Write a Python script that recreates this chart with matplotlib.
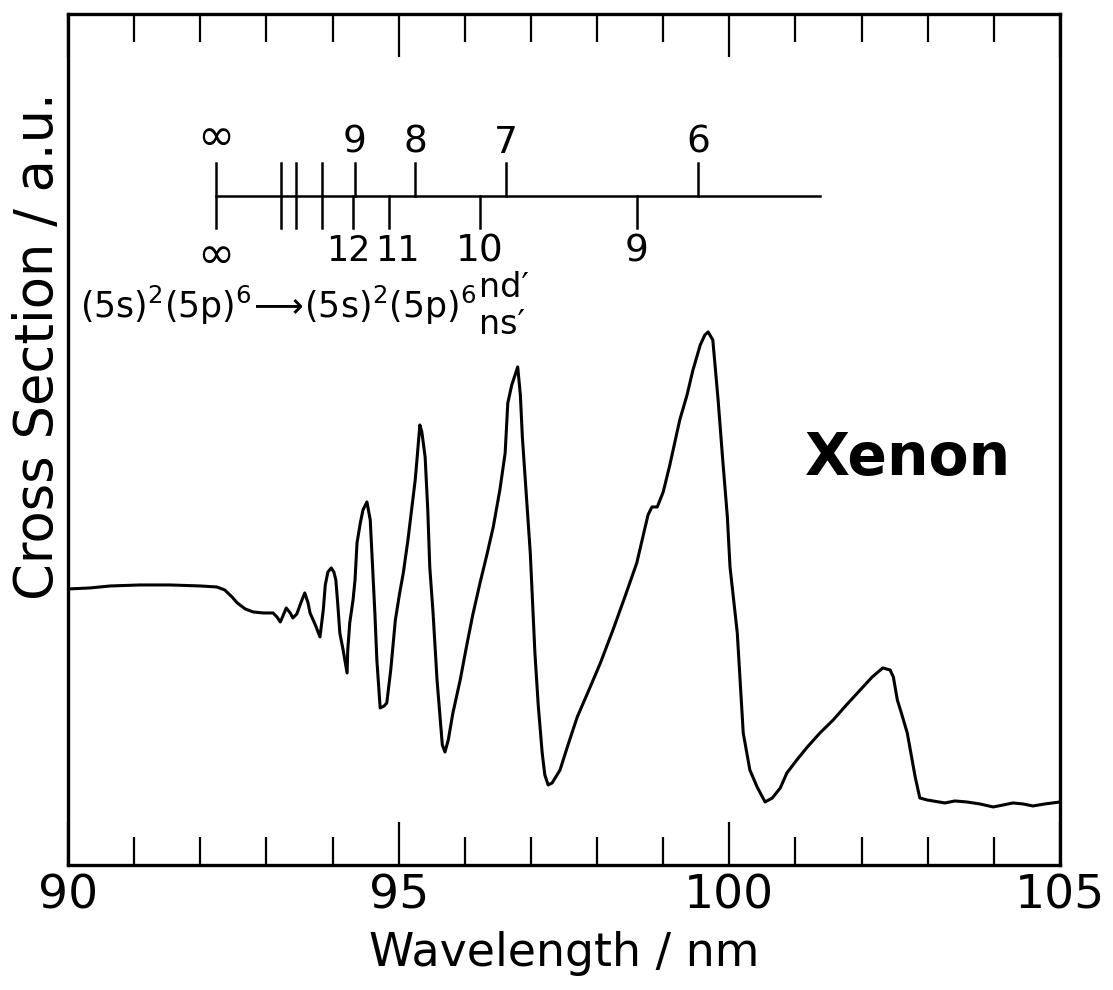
import matplotlib.pyplot as plt

# Espectro de absorção do xenônio
comprimento = [
    90.00, 90.33, 90.64, 91.09, 91.54, 92.00, 92.25, 92.37, 92.48, 92.56,
    92.68, 92.80, 92.95, 93.10, 93.16, 93.21, 93.25, 93.30, 93.36, 93.40,
    93.46, 93.52, 93.58, 93.63, 93.66, 93.74, 93.81, 93.86, 93.89, 93.93,
    93.98, 94.02, 94.05, 94.08, 94.11, 94.16, 94.22, 94.23, 94.26, 94.31,
    94.34, 94.37, 94.42, 94.46, 94.52, 94.57, 94.60, 94.64, 94.67, 94.72,
    94.78, 94.82, 94.88, 94.95, 95.01, 95.07, 95.14, 95.20, 95.25, 95.28,
    95.32, 95.35, 95.40, 95.44, 95.47, 95.52, 95.58, 95.63, 95.66, 95.70,
    95.75, 95.82, 95.93, 96.03, 96.12, 96.23, 96.34, 96.43, 96.53, 96.61,
    96.65, 96.71, 96.80, 96.84, 96.87, 96.93, 96.99, 97.03, 97.06, 97.11,
    97.17, 97.21, 97.26, 97.32, 97.44, 97.56, 97.70, 97.89, 98.05, 98.24,
    98.42, 98.60, 98.70, 98.77, 98.83, 98.91, 99.00, 99.10, 99.25, 99.36,
    99.45, 99.56, 99.63, 99.68, 99.75, 99.83, 99.90, 99.97, 100.01, 100.12,
    100.21, 100.31, 100.42, 100.54, 100.65, 100.77, 100.87, 101.02, 101.18,
    101.37, 101.57, 101.77, 101.98, 102.16, 102.32, 102.43, 102.48, 102.54,
    102.61, 102.69, 102.75, 102.81, 102.88, 102.99, 103.08, 103.26, 103.41,
    103.59, 103.79, 103.99, 104.14, 104.29, 104.44, 104.59, 104.77, 105.00,
]
secao = [
    2.76, 2.77, 2.79, 2.80, 2.80, 2.79, 2.78, 2.75, 2.68, 2.62,
    2.56, 2.53, 2.52, 2.52, 2.48, 2.43, 2.49, 2.57, 2.52, 2.47,
    2.51, 2.62, 2.72, 2.62, 2.52, 2.40, 2.28, 2.55, 2.80, 2.93,
    2.97, 2.93, 2.85, 2.60, 2.32, 2.15, 1.92, 2.15, 2.42, 2.65,
    2.85, 3.22, 3.42, 3.55, 3.63, 3.45, 3.05, 2.52, 2.05, 1.57,
    1.59, 1.62, 1.95, 2.45, 2.70, 2.92, 3.25, 3.58, 3.85, 4.08,
    4.40, 4.33, 4.08, 3.55, 2.98, 2.52, 1.85, 1.45, 1.20, 1.13,
    1.25, 1.52, 1.85, 2.20, 2.50, 2.82, 3.12, 3.38, 3.75, 4.12,
    4.62, 4.80, 4.98, 4.70, 4.28, 3.70, 3.12, 2.55, 2.12, 1.60,
    1.12, 0.90, 0.80, 0.82, 0.95, 1.20, 1.48, 1.77, 2.02, 2.35,
    2.68, 3.02, 3.30, 3.50, 3.58, 3.58, 3.73, 4.00, 4.45, 4.70,
    4.95, 5.20, 5.30, 5.33, 5.25, 4.65, 4.05, 3.48, 2.98, 2.32,
    1.32, 0.95, 0.78, 0.63, 0.67, 0.77, 0.92, 1.05, 1.18,
    1.32, 1.45, 1.60, 1.75, 1.88, 1.97, 1.95, 1.88, 1.65,
    1.50, 1.32, 1.10, 0.88, 0.67, 0.65, 0.64, 0.62, 0.64,
    0.63, 0.61, 0.58, 0.60, 0.62, 0.61, 0.59, 0.61, 0.63,
]

# Limites de série (nm)
limite = 92.24
linhas_sem_rotulo = [93.22, 93.45, 93.84]
nd_pos = [94.34, 95.25, 96.62, 99.53]
nd_rotulos = ["9", "8", "7", "6"]
ns_pos = [94.31, 94.85, 96.23, 98.60]
ns_rotulos = ["12", "11", "10", "9"]
fim_linha = 101.37

fig = plt.figure(figsize=(11.13, 9.9), dpi=100)
ax = fig.add_axes([0.0611, 0.1263, 0.8913, 0.8596])

ax.plot(comprimento, secao, color="black", linewidth=2.2)

ax.set_xlim(90, 105)
ax.set_ylim(0, 8.51)
ax.set_xticks([90, 95, 100, 105])
ax.set_xticks(range(90, 106), minor=True)
ax.set_yticks([])
ax.tick_params(axis="x", which="both", direction="in", top=True, width=1.6, pad=6)
ax.tick_params(axis="x", which="major", length=31, labelsize=34)
ax.tick_params(axis="x", which="minor", length=20)
for s in ax.spines.values():
    s.set_linewidth(2.4)

ax.set_xlabel("Wavelength / nm", fontsize=33, labelpad=9)
ax.set_ylabel("Cross Section / a.u.", fontsize=38)
ax.yaxis.set_label_coords(-0.004, 0.61)

# Diagrama dos níveis
y0, ycima, ybaixo = 6.69, 7.02, 6.37
ax.plot([limite, fim_linha], [y0, y0], color="black", linewidth=1.8)
ax.plot([limite, limite], [ybaixo, ycima], color="black", linewidth=1.8)
for x in linhas_sem_rotulo:
    ax.plot([x, x], [ybaixo, ycima], color="black", linewidth=1.8)
for x, r in zip(nd_pos, nd_rotulos):
    ax.plot([x, x], [y0, ycima], color="black", linewidth=1.8)
    ax.text(x, 7.04, r, fontsize=27, ha="center", va="bottom")
for x, r in zip(ns_pos, ns_rotulos):
    ax.plot([x, x], [y0, ybaixo], color="black", linewidth=1.8)
    if r == "12":
        ax.text(x + 0.27, 6.31, r, fontsize=25, ha="right", va="top")
    elif r == "11":
        ax.text(x - 0.21, 6.31, r, fontsize=25, ha="left", va="top")
    else:
        ax.text(x, 6.31, r, fontsize=27, ha="center", va="top")
ax.text(limite, 7.06, "\u221e", fontsize=32, ha="center", va="bottom")
ax.text(limite, 6.31, "\u221e", fontsize=32, ha="center", va="top")

ax.text(90.18, 5.47, r"$\mathregular{(5s)^2(5p)^6\!\longrightarrow\!(5s)^2(5p)^6}$",
        fontsize=25, ha="left", va="baseline")
ax.text(96.22, 5.68, "nd\u2032", fontsize=24, ha="left", va="baseline")
ax.text(96.22, 5.31, "ns\u2032", fontsize=24, ha="left", va="baseline")

ax.text(101.14, 3.90, "Xenon", fontsize=42, fontweight="bold", ha="left", va="baseline")

plt.savefig("out.png", dpi=100)
